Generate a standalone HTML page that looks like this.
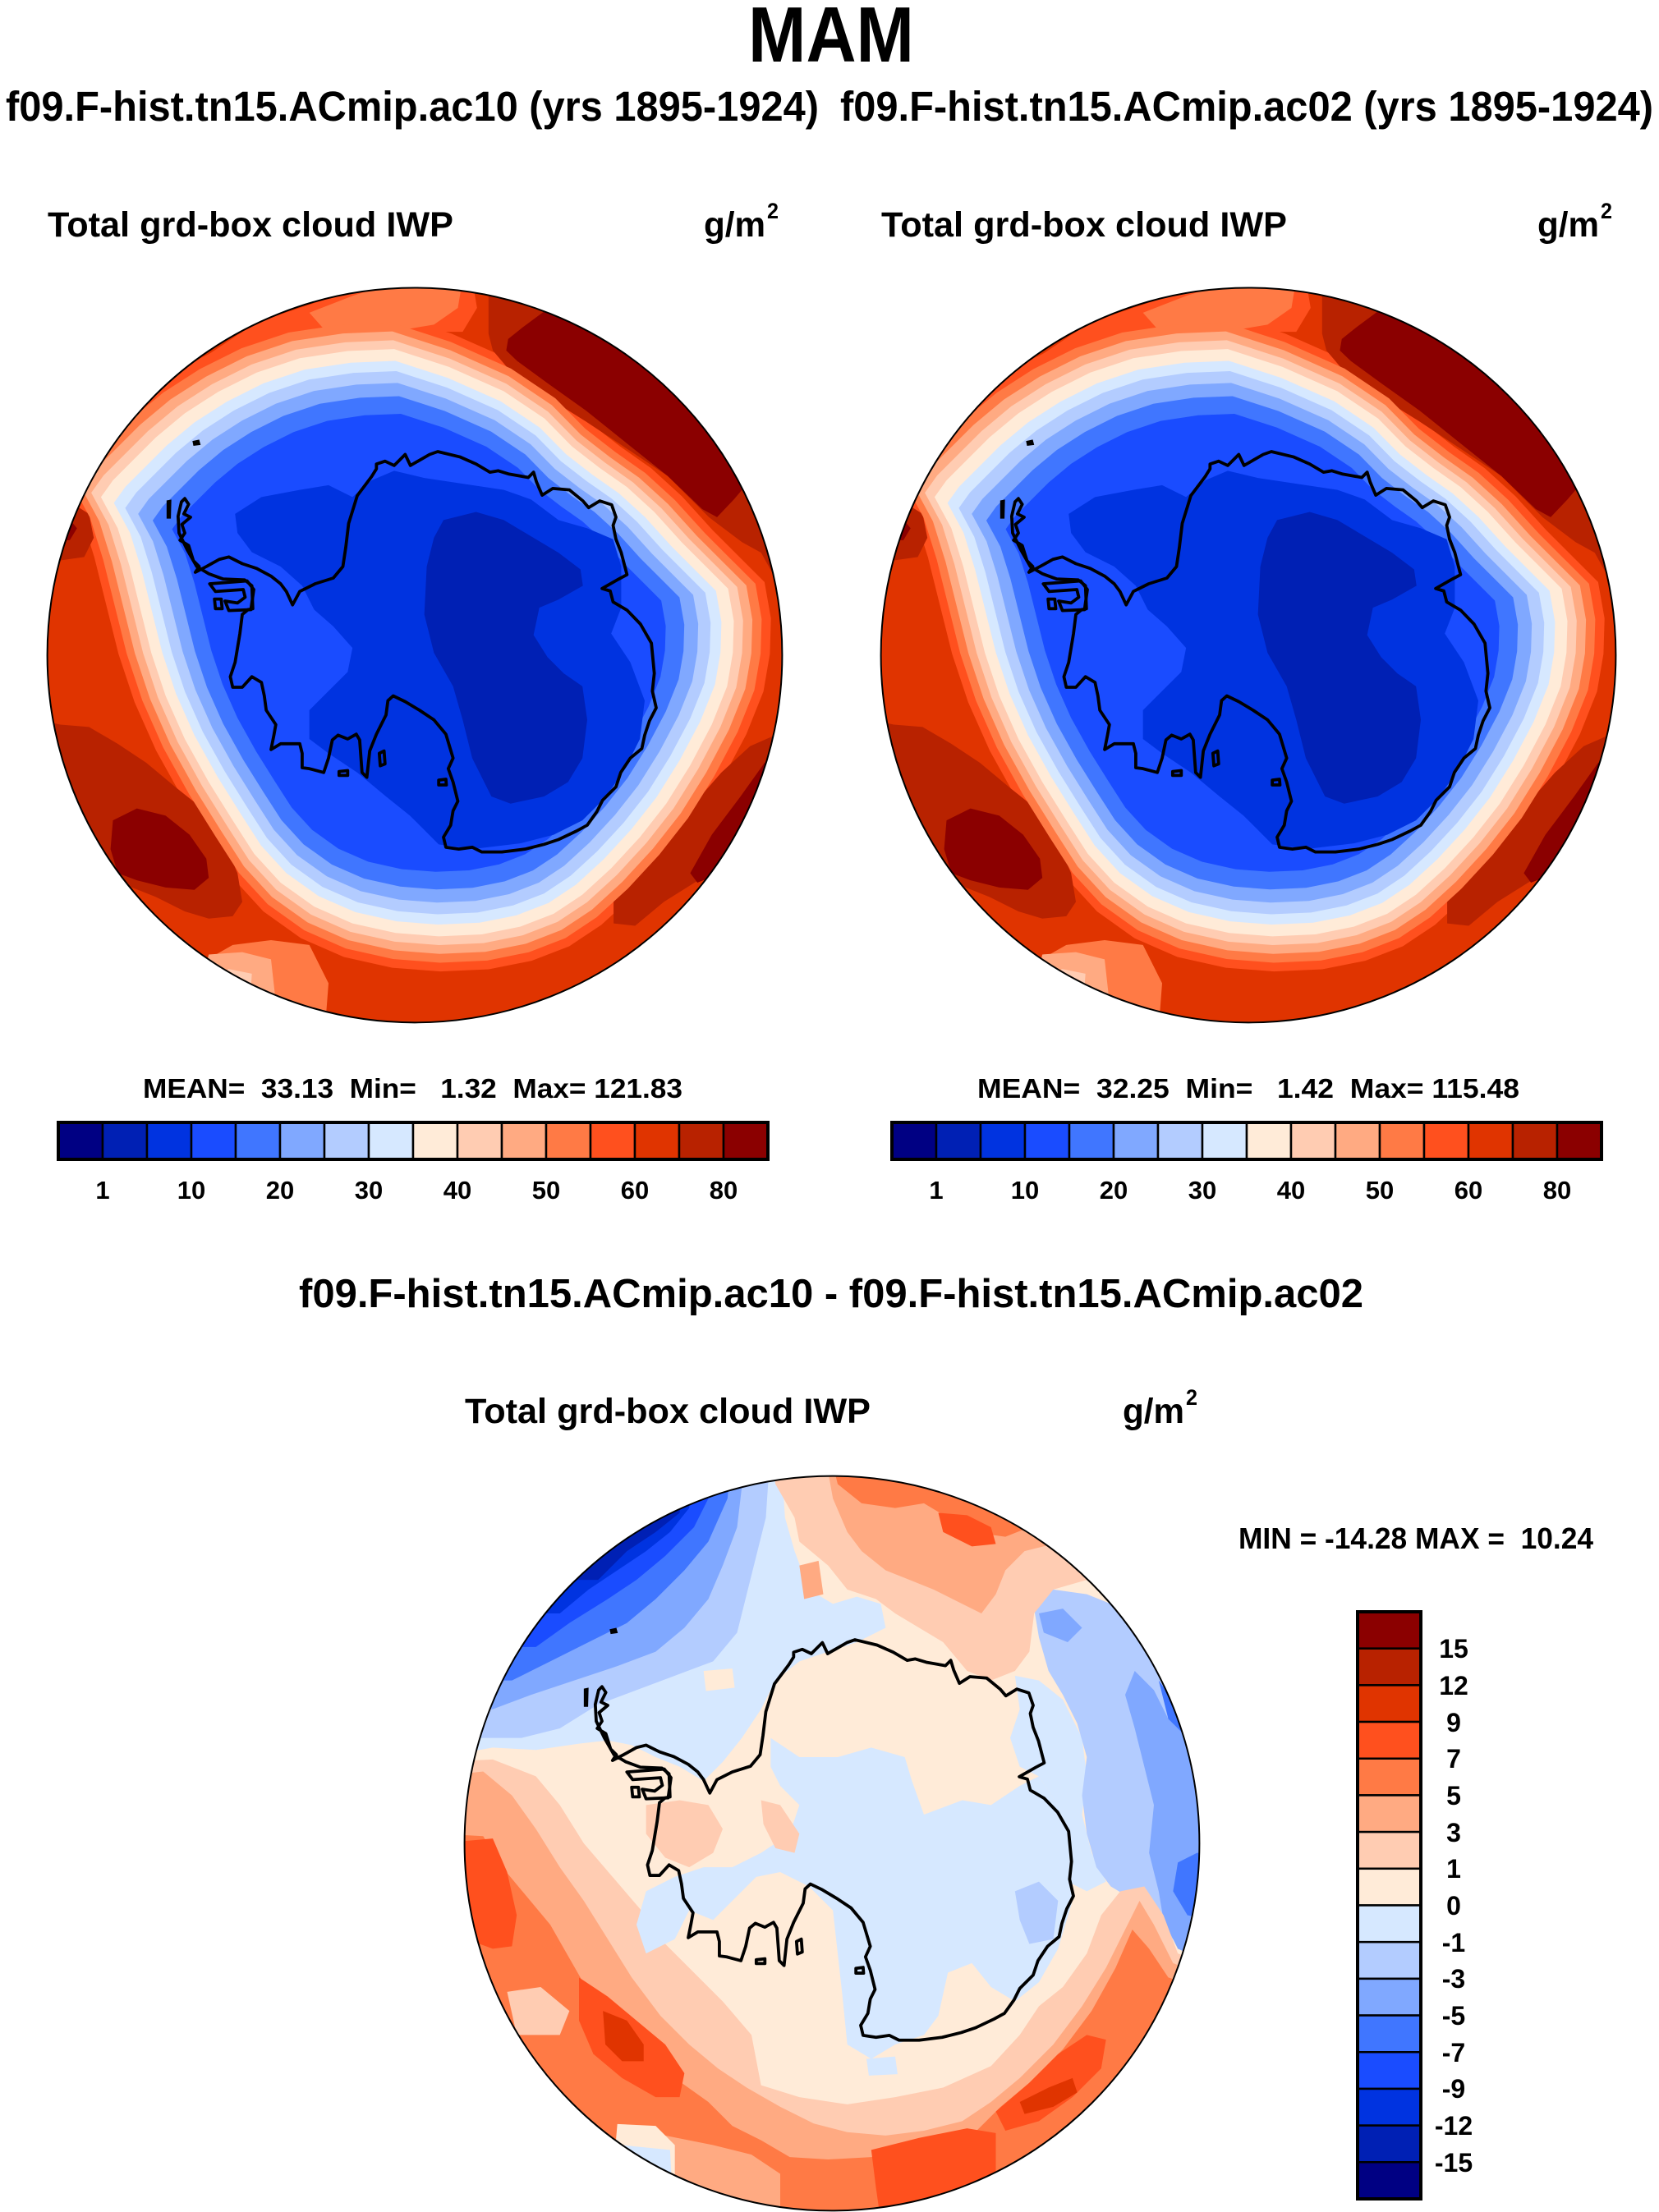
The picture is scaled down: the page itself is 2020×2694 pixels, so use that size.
<!DOCTYPE html>
<html><head><meta charset="utf-8">
<style>
html,body{margin:0;padding:0;background:#fff;}
svg{display:block;}
text{font-family:"Liberation Sans",Arial,Helvetica,sans-serif;font-weight:bold;fill:#000;white-space:pre;}
</style></head>
<body>
<svg xmlns="http://www.w3.org/2000/svg" xmlns:xlink="http://www.w3.org/1999/xlink" width="2020" height="2694" viewBox="0 0 2020 2694">
<defs>
<clipPath id="clipF"><circle cx="780" cy="785" r="767"/></clipPath>
<clipPath id="clipZ"><circle cx="768" cy="780" r="767"/></clipPath>
<polygon id="B" points="737,146 851,183 966,234 1051,291 1108,349 1166,394 1223,434 1280,486 1337,549 1394,606 1434,646 1446,714 1444,780 1432,850 1400,930 1355,1015 1305,1095 1250,1165 1190,1230 1130,1285 1070,1325 1000,1352 920,1368 830,1372 740,1365 650,1345 570,1310 500,1260 445,1200 400,1130 350,1050 300,960 260,870 230,780 210,700 185,600 160,520 125,455 150,420 190,380 240,330 300,280 370,235 450,195 540,165 640,150"/>
<g id="coast">
<path fill="none" stroke="#000" stroke-width="6.5" stroke-linejoin="round" d="M300,458 L308,470 L298,490 L312,497 L294,512 L300,530 L290,545 L308,556 L318,588 L330,600 L322,612 L345,600 L372,585 L392,580 L420,594 L450,604 L480,620 L500,636 L512,652 L525,680 L540,652 L572,636 L610,624 L630,600 L636,560 L642,510 L660,452 L690,412 L700,396 L700,386 L718,380 L737,389 L760,366 L771,389 L811,366 L828,360 L874,371 L908,386 L937,403 L954,400 L977,407 L1017,414 L1028,403 L1034,423 L1046,451 L1068,437 L1103,440 L1131,463 L1143,477 L1166,463 L1191,471 L1200,497 L1194,514 L1200,543 L1211,571 L1223,617 L1206,626 L1171,646 L1188,651 L1194,674 L1223,691 L1251,720 L1274,760 L1280,823 L1276,860 L1284,895 L1270,922 L1260,952 L1254,980 L1230,1000 L1210,1030 L1200,1060 L1172,1088 L1160,1112 L1140,1140 L1118,1152 L1080,1170 L1050,1180 L1010,1190 L962,1196 L920,1196 L900,1186 L872,1190 L845,1186 L840,1165 L855,1140 L860,1110 L870,1090 L860,1050 L850,1022 L860,1000 L845,950 L820,920 L790,900 L760,882 L735,870 L724,880 L720,910 L700,950 L686,985 L680,1040 L670,1030 L665,962 L658,950 L640,960 L620,952 L608,962 L600,1000 L590,1030 L560,1022 L545,1020 L545,990 L540,970 L500,970 L480,982 L486,952 L490,930 L470,900 L466,870 L460,842 L440,830 L420,852 L400,852 L395,830 L405,800 L410,770 L415,740 L420,700 L432,690 L442,688 L440,640 L425,628 L380,626 L350,615 L325,600 L305,565 L288,530 L286,495 L293,465 Z"/>
<path fill="none" stroke="#000" stroke-width="6.5" stroke-linejoin="round" d="M352,636 L430,630 L444,648 L438,690 L392,692 L384,672 L410,676 L426,664 L422,648 L364,652 Z M362,668 L376,668 L378,688 L364,688 Z M706,990 L716,985 L718,1012 L708,1016 Z M622,1028 L640,1026 L640,1036 L622,1036 Z M830,1046 L845,1044 L846,1056 L830,1056 Z"/>
<polygon fill="#000" points="316,338 330,335 333,346 318,348"/>
<polygon fill="#000" points="262,462 272,460 271,500 262,500"/>
</g>
<g id="mapA">
<circle cx="780" cy="785" r="767" fill="#E03400"/>
<use xlink:href="#B" href="#B" fill="#FF501E" transform="matrix(1.12 0 0 1.12 -96 -91.2)"/>
<polygon fill="#FF501E" points="250,260 330,170 450,90 600,40 760,0 900,0 910,60 880,110 800,110 600,150 400,230"/>
<polygon fill="#FF7A45" points="560,70 650,35 760,0 880,0 870,60 820,95 700,115 600,115"/>
<polygon fill="#B82200" points="934,-50 934,114 943,149 977,189 1046,240 1137,297 1223,354 1308,411 1394,497 1463,549 1503,571 1530,620 1700,640 1700,-50"/>
<polygon fill="#8B0000" points="971,149 975,125 1006,100 1060,60 1100,-50 1700,-50 1700,300 1480,420 1446,460 1411,497 1380,480 1308,411 1223,343 1137,274 1057,217 994,171"/>
<polygon fill="#B82200" points="1560,940 1480,975 1420,1030 1350,1110 1280,1190 1230,1250 1195,1300 1195,1345 1240,1350 1300,1300 1380,1250 1420,1230 1600,1200"/>
<polygon fill="#8B0000" points="1560,990 1510,1010 1460,1080 1400,1160 1355,1240 1370,1260 1420,1240 1600,1150"/>
<polygon fill="#B82200" points="-100,900 40,930 100,935 160,970 220,1010 280,1060 330,1100 380,1170 410,1240 420,1300 400,1330 350,1335 300,1320 240,1290 190,1270 150,1255 -100,1200"/>
<polygon fill="#8B0000" points="150,1130 200,1105 260,1120 310,1160 345,1210 350,1250 320,1275 260,1270 200,1255 160,1240 145,1190"/>
<polygon fill="#B82200" points="-50,470 60,465 100,490 110,540 90,580 -50,600"/>
<polygon fill="#8B0000" points="-50,495 50,490 75,520 60,545 -50,550"/>
<polygon fill="#FF7A45" points="400,1390 480,1380 560,1390 600,1470 590,1600 300,1600 330,1430"/>
<polygon fill="#FFAA82" points="350,1410 420,1405 480,1420 500,1600 330,1600 340,1450"/>
<polygon fill="#FFCCB2" points="390,1440 440,1450 430,1600 370,1600"/>
<use xlink:href="#B" href="#B" fill="#FF7A45" transform="matrix(1.09 0 0 1.09 -72 -68.4)"/>
<use xlink:href="#B" href="#B" fill="#FFAA82" transform="matrix(1.06 0 0 1.06 -48 -45.6)"/>
<use xlink:href="#B" href="#B" fill="#FFCCB2" transform="matrix(1.03 0 0 1.03 -24 -22.8)"/>
<use xlink:href="#B" href="#B" fill="#FFEBD8"/>
<use xlink:href="#B" href="#B" fill="#D6E8FF" transform="matrix(0.96 0 0 0.96 32 30.4)"/>
<use xlink:href="#B" href="#B" fill="#B3CCFF" transform="matrix(0.925 0 0 0.925 60 57)"/>
<use xlink:href="#B" href="#B" fill="#80A8FF" transform="matrix(0.885 0 0 0.885 92 87.4)"/>
<use xlink:href="#B" href="#B" fill="#4076FF" transform="matrix(0.84 0 0 0.84 128 121.6)"/>
<use xlink:href="#B" href="#B" fill="#1A4CFF" transform="matrix(0.78 0 0 0.78 176 167.2)"/>
<polygon fill="#0033E0" points="405,490 460,455 540,440 600,430 650,455 690,420 737,400 800,415 900,430 966,440 1023,460 1080,503 1140,520 1194,543 1211,600 1211,686 1190,740 1230,800 1260,880 1250,960 1220,1020 1180,1080 1130,1130 1070,1160 1000,1178 900,1190 830,1180 770,1120 720,1080 660,1030 600,990 560,960 560,900 600,860 640,820 650,770 610,725 570,690 545,640 500,600 440,570 410,530"/>
<polygon fill="#0020B4" points="840,503 908,486 966,503 1023,537 1080,571 1126,606 1131,640 1080,669 1040,686 1028,743 1057,789 1091,823 1130,850 1140,920 1130,1000 1100,1050 1050,1080 980,1095 940,1080 900,1000 880,920 860,850 820,780 800,700 805,600 820,540"/>
<use xlink:href="#coast" href="#coast"/>
</g>
</defs>

<text x="911" y="75" font-size="96" textLength="202" lengthAdjust="spacingAndGlyphs">MAM</text>
<text x="7" y="147" font-size="51" textLength="990" lengthAdjust="spacingAndGlyphs">f09.F-hist.tn15.ACmip.ac10 (yrs 1895-1924)</text>
<text x="1023" y="147" font-size="51" textLength="990" lengthAdjust="spacingAndGlyphs">f09.F-hist.tn15.ACmip.ac02 (yrs 1895-1924)</text>

<text x="58" y="288" font-size="43" textLength="494" lengthAdjust="spacingAndGlyphs">Total grd-box cloud IWP</text>
<text x="857" y="288" font-size="43" textLength="75" lengthAdjust="spacingAndGlyphs">g/m</text>
<text x="934" y="266" font-size="27" textLength="14" lengthAdjust="spacingAndGlyphs">2</text>

<text x="1073" y="288" font-size="43" textLength="494" lengthAdjust="spacingAndGlyphs">Total grd-box cloud IWP</text>
<text x="1872" y="288" font-size="43" textLength="75" lengthAdjust="spacingAndGlyphs">g/m</text>
<text x="1949" y="266" font-size="27" textLength="14" lengthAdjust="spacingAndGlyphs">2</text>

<g transform="translate(50,340) scale(0.58333)"><g clip-path="url(#clipF)"><use xlink:href="#mapA" href="#mapA"/></g><circle cx="780" cy="785" r="767" fill="none" stroke="#000" stroke-width="3.4"/></g>
<g transform="translate(1065,340) scale(0.58333)"><g clip-path="url(#clipF)"><use xlink:href="#mapA" href="#mapA"/></g><circle cx="780" cy="785" r="767" fill="none" stroke="#000" stroke-width="3.4"/></g>

<text x="174" y="1337" font-size="33" textLength="657" lengthAdjust="spacingAndGlyphs">MEAN=  33.13  Min=   1.32  Max= 121.83</text>
<text x="1190" y="1337" font-size="33" textLength="660" lengthAdjust="spacingAndGlyphs">MEAN=  32.25  Min=   1.42  Max= 115.48</text>

<g stroke="#000" stroke-width="2.5">
<rect x="71" y="1367" width="54" height="45" fill="#000083"/>
<rect x="125" y="1367" width="54" height="45" fill="#0020B4"/>
<rect x="179" y="1367" width="54" height="45" fill="#0033E0"/>
<rect x="233" y="1367" width="54" height="45" fill="#1A4CFF"/>
<rect x="287" y="1367" width="54" height="45" fill="#4076FF"/>
<rect x="341" y="1367" width="54" height="45" fill="#80A8FF"/>
<rect x="395" y="1367" width="54" height="45" fill="#B3CCFF"/>
<rect x="449" y="1367" width="54" height="45" fill="#D6E8FF"/>
<rect x="503" y="1367" width="54" height="45" fill="#FFEBD8"/>
<rect x="557" y="1367" width="54" height="45" fill="#FFCCB2"/>
<rect x="611" y="1367" width="54" height="45" fill="#FFAA82"/>
<rect x="665" y="1367" width="54" height="45" fill="#FF7A45"/>
<rect x="719" y="1367" width="54" height="45" fill="#FF501E"/>
<rect x="773" y="1367" width="54" height="45" fill="#E03400"/>
<rect x="827" y="1367" width="54" height="45" fill="#B82200"/>
<rect x="881" y="1367" width="54" height="45" fill="#8B0000"/>
<rect x="71" y="1367" width="864" height="45" fill="none" stroke-width="4"/>
</g>
<g font-size="31" text-anchor="middle">
<text x="125" y="1460">1</text>
<text x="233" y="1460">10</text>
<text x="341" y="1460">20</text>
<text x="449" y="1460">30</text>
<text x="557" y="1460">40</text>
<text x="665" y="1460">50</text>
<text x="773" y="1460">60</text>
<text x="881" y="1460">80</text>
</g>

<g stroke="#000" stroke-width="2.5">
<rect x="1086" y="1367" width="54" height="45" fill="#000083"/>
<rect x="1140" y="1367" width="54" height="45" fill="#0020B4"/>
<rect x="1194" y="1367" width="54" height="45" fill="#0033E0"/>
<rect x="1248" y="1367" width="54" height="45" fill="#1A4CFF"/>
<rect x="1302" y="1367" width="54" height="45" fill="#4076FF"/>
<rect x="1356" y="1367" width="54" height="45" fill="#80A8FF"/>
<rect x="1410" y="1367" width="54" height="45" fill="#B3CCFF"/>
<rect x="1464" y="1367" width="54" height="45" fill="#D6E8FF"/>
<rect x="1518" y="1367" width="54" height="45" fill="#FFEBD8"/>
<rect x="1572" y="1367" width="54" height="45" fill="#FFCCB2"/>
<rect x="1626" y="1367" width="54" height="45" fill="#FFAA82"/>
<rect x="1680" y="1367" width="54" height="45" fill="#FF7A45"/>
<rect x="1734" y="1367" width="54" height="45" fill="#FF501E"/>
<rect x="1788" y="1367" width="54" height="45" fill="#E03400"/>
<rect x="1842" y="1367" width="54" height="45" fill="#B82200"/>
<rect x="1896" y="1367" width="54" height="45" fill="#8B0000"/>
<rect x="1086" y="1367" width="864" height="45" fill="none" stroke-width="4"/>
</g>
<g font-size="31" text-anchor="middle">
<text x="1140" y="1460">1</text>
<text x="1248" y="1460">10</text>
<text x="1356" y="1460">20</text>
<text x="1464" y="1460">30</text>
<text x="1572" y="1460">40</text>
<text x="1680" y="1460">50</text>
<text x="1788" y="1460">60</text>
<text x="1896" y="1460">80</text>
</g>

<text x="364" y="1592" font-size="49" textLength="1296" lengthAdjust="spacingAndGlyphs">f09.F-hist.tn15.ACmip.ac10 - f09.F-hist.tn15.ACmip.ac02</text>
<text x="566" y="1733" font-size="43" textLength="494" lengthAdjust="spacingAndGlyphs">Total grd-box cloud IWP</text>
<text x="1367" y="1733" font-size="43" textLength="75" lengthAdjust="spacingAndGlyphs">g/m</text>
<text x="1444" y="1711" font-size="27" textLength="14" lengthAdjust="spacingAndGlyphs">2</text>
<text x="1508" y="1886" font-size="36" textLength="432" lengthAdjust="spacingAndGlyphs">MIN = -14.28 MAX =  10.24</text>

<g transform="translate(565,1790) scale(0.58333)">
<g clip-path="url(#clipZ)">
<circle cx="768" cy="780" r="767" fill="#FFEBD8"/>
<polygon fill="#D6E8FF" points="-50,600 60,580 150,585 240,572 300,565 350,575 400,600 450,620 500,650 540,610 580,560 620,500 650,440 700,400 760,380 820,360 880,330 870,280 820,265 770,280 720,250 690,170 670,100 660,-50 -50,-50"/>
<polygon fill="#FFEBD8" points="500,420 560,415 565,455 505,462"/>
<polygon fill="#B3CCFF" points="-50,560 40,560 120,560 200,540 280,490 360,460 440,430 520,400 570,340 590,260 610,180 630,100 640,-50 -50,-50"/>
<polygon fill="#80A8FF" points="-50,500 60,500 140,470 230,440 320,410 400,380 460,330 510,270 540,200 570,120 590,-50 -50,-50"/>
<polygon fill="#4076FF" points="-50,440 100,440 180,400 260,360 340,320 400,270 460,210 510,150 550,60 560,-50 -50,-50"/>
<polygon fill="#1A4CFF" points="-50,370 150,370 220,320 300,270 360,230 420,180 480,120 510,60 520,-50 -50,-50"/>
<polygon fill="#0033E0" points="-50,300 200,300 260,250 320,210 380,170 430,130 470,80 480,-50 -50,-50"/>
<polygon fill="#0020B4" points="-50,230 280,230 340,170 400,130 450,90 470,-50 -50,-50"/>
<polygon fill="#D6E8FF" points="1150,430 1200,440 1250,480 1290,560 1300,640 1290,720 1310,800 1340,860 1300,880 1260,860 1250,800 1240,700 1200,640 1160,620 1140,560 1160,500"/>
<polygon fill="#B3CCFF" points="1180,270 1230,250 1300,260 1400,300 1600,300 1600,1100 1500,1000 1460,960 1400,900 1350,870 1320,830 1300,760 1290,680 1300,600 1280,530 1250,470 1220,420 1200,350 1190,290"/>
<polygon fill="#80A8FF" points="1400,420 1440,460 1470,520 1600,500 1600,1050 1490,1000 1460,940 1450,880 1430,800 1440,700 1420,620 1400,540 1380,470"/>
<polygon fill="#80A8FF" points="1200,300 1250,290 1290,330 1260,360 1210,340"/>
<polygon fill="#4076FF" points="1450,440 1480,480 1600,480 1600,620 1510,560 1470,520"/>
<polygon fill="#4076FF" points="1490,820 1530,800 1600,800 1600,950 1510,930 1480,880"/>
<polygon fill="#FFCCB2" points="640,-50 650,30 690,100 700,150 760,200 800,250 860,270 900,300 950,330 1000,360 1050,420 1100,440 1150,420 1180,380 1190,300 1230,250 1300,230 1400,250 1600,250 1600,-50"/>
<polygon fill="#FFAA82" points="750,-50 770,60 800,130 830,170 880,210 930,230 980,250 1040,280 1080,300 1110,260 1130,210 1170,170 1250,150 1600,150 1600,-50"/>
<polygon fill="#FFAA82" points="700,200 740,190 750,260 710,270"/>
<polygon fill="#FF7A45" points="760,-50 780,30 830,70 900,80 960,70 1010,100 1060,130 1130,140 1180,120 1600,100 1600,-50"/>
<polygon fill="#FF501E" points="990,90 1050,95 1100,120 1110,155 1060,160 1000,130"/>
<polygon fill="#FFCCB2" points="-50,610 60,605 150,640 200,700 250,780 310,850 370,920 420,990 480,1050 540,1110 600,1180 620,1285 700,1310 800,1325 900,1310 1000,1290 1100,1245 1160,1180 1200,1120 1250,1080 1300,1010 1330,930 1370,880 1420,870 1460,930 1490,1010 1600,1050 1600,1700 -50,1700"/>
<polygon fill="#FFAA82" points="-50,640 40,630 100,680 150,750 200,830 250,900 300,980 350,1060 410,1140 470,1200 530,1250 590,1290 660,1330 730,1365 800,1383 880,1390 960,1380 1040,1360 1100,1320 1160,1270 1230,1200 1290,1120 1340,1040 1380,960 1410,900 1440,950 1480,1030 1600,1080 1600,1700 -50,1700"/>
<polygon fill="#FF7A45" points="-50,760 40,765 80,830 130,890 180,950 220,1020 260,1090 310,1150 370,1210 440,1270 510,1320 560,1370 620,1400 680,1435 760,1440 850,1435 950,1420 1030,1400 1070,1380 1120,1330 1180,1280 1250,1210 1310,1130 1360,1040 1395,960 1430,1000 1470,1060 1600,1100 1600,1700 -50,1700"/>
<polygon fill="#FFAA82" points="420,1390 520,1410 600,1430 660,1470 660,1600 350,1600 380,1450"/>
<polygon fill="#FFEBD8" points="320,1366 400,1370 440,1410 440,1600 300,1600"/>
<polygon fill="#D6E8FF" points="330,1410 430,1420 440,1600 320,1600"/>
<polygon fill="#FFCCB2" points="90,1090 160,1080 220,1130 200,1180 110,1180"/>
<polygon fill="#FF501E" points="-50,780 60,770 90,840 110,930 100,995 60,1000 -50,960"/>
<polygon fill="#FF501E" points="240,1060 300,1100 360,1150 420,1200 460,1260 450,1310 400,1310 330,1270 270,1220 240,1150"/>
<polygon fill="#FF501E" points="850,1420 950,1395 1050,1375 1110,1385 1110,1470 1060,1530 950,1570 870,1570 860,1500"/>
<polygon fill="#FF501E" points="1110,1340 1180,1280 1240,1220 1300,1180 1340,1190 1330,1250 1270,1310 1200,1360 1130,1380"/>
<polygon fill="#E03400" points="290,1130 340,1150 375,1200 375,1235 330,1235 295,1200"/>
<polygon fill="#E03400" points="1160,1320 1220,1290 1270,1270 1280,1300 1230,1330 1170,1345"/>
<polygon fill="#D6E8FF" points="640,560 700,600 780,600 850,580 920,600 935,650 960,720 1040,690 1100,700 1160,660 1200,640 1240,700 1262,800 1270,900 1240,1000 1200,1070 1150,1110 1100,1080 1060,1030 1010,1050 990,1140 960,1180 900,1200 850,1230 800,1200 790,1100 770,920 720,870 660,840 610,850 560,900 520,940 470,920 440,980 380,1010 360,950 380,880 440,850 500,830 560,830 620,800 680,760 700,700 660,660 640,620"/>
<polygon fill="#FFCCB2" points="380,700 450,690 510,700 540,750 520,800 470,830 420,810 380,760"/>
<polygon fill="#FFCCB2" points="620,690 660,700 700,760 690,800 650,790 625,740"/>
<polygon fill="#B3CCFF" points="1150,880 1200,860 1240,900 1230,980 1180,990 1160,940"/>
<polygon fill="#D6E8FF" points="840,1230 900,1225 905,1262 845,1265"/>
<use xlink:href="#coast" href="#coast" transform="translate(-12,-5)"/>
</g>
<circle cx="768" cy="780" r="767" fill="none" stroke="#000" stroke-width="3.4"/>
</g>

<g stroke="#000" stroke-width="2.5">
<rect x="1653" y="1963" width="77" height="44.69" fill="#8B0000"/>
<rect x="1653" y="2007.69" width="77" height="44.69" fill="#B82200"/>
<rect x="1653" y="2052.38" width="77" height="44.69" fill="#E03400"/>
<rect x="1653" y="2097.06" width="77" height="44.69" fill="#FF501E"/>
<rect x="1653" y="2141.75" width="77" height="44.69" fill="#FF7A45"/>
<rect x="1653" y="2186.44" width="77" height="44.69" fill="#FFAA82"/>
<rect x="1653" y="2231.13" width="77" height="44.69" fill="#FFCCB2"/>
<rect x="1653" y="2275.81" width="77" height="44.69" fill="#FFEBD8"/>
<rect x="1653" y="2320.5" width="77" height="44.69" fill="#D6E8FF"/>
<rect x="1653" y="2365.19" width="77" height="44.69" fill="#B3CCFF"/>
<rect x="1653" y="2409.88" width="77" height="44.69" fill="#80A8FF"/>
<rect x="1653" y="2454.56" width="77" height="44.69" fill="#4076FF"/>
<rect x="1653" y="2499.25" width="77" height="44.69" fill="#1A4CFF"/>
<rect x="1653" y="2543.94" width="77" height="44.69" fill="#0033E0"/>
<rect x="1653" y="2588.63" width="77" height="44.69" fill="#0020B4"/>
<rect x="1653" y="2633.31" width="77" height="44.69" fill="#000083"/>
<rect x="1653" y="1963" width="77" height="715" fill="none" stroke-width="4"/>
</g>
<g font-size="32" text-anchor="middle">
<text x="1770" y="2019">15</text>
<text x="1770" y="2064">12</text>
<text x="1770" y="2109">9</text>
<text x="1770" y="2153">7</text>
<text x="1770" y="2198">5</text>
<text x="1770" y="2243">3</text>
<text x="1770" y="2287">1</text>
<text x="1770" y="2332">0</text>
<text x="1770" y="2377">-1</text>
<text x="1770" y="2421">-3</text>
<text x="1770" y="2466">-5</text>
<text x="1770" y="2511">-7</text>
<text x="1770" y="2555">-9</text>
<text x="1770" y="2600">-12</text>
<text x="1770" y="2645">-15</text>
</g>
</svg>
</body></html>
